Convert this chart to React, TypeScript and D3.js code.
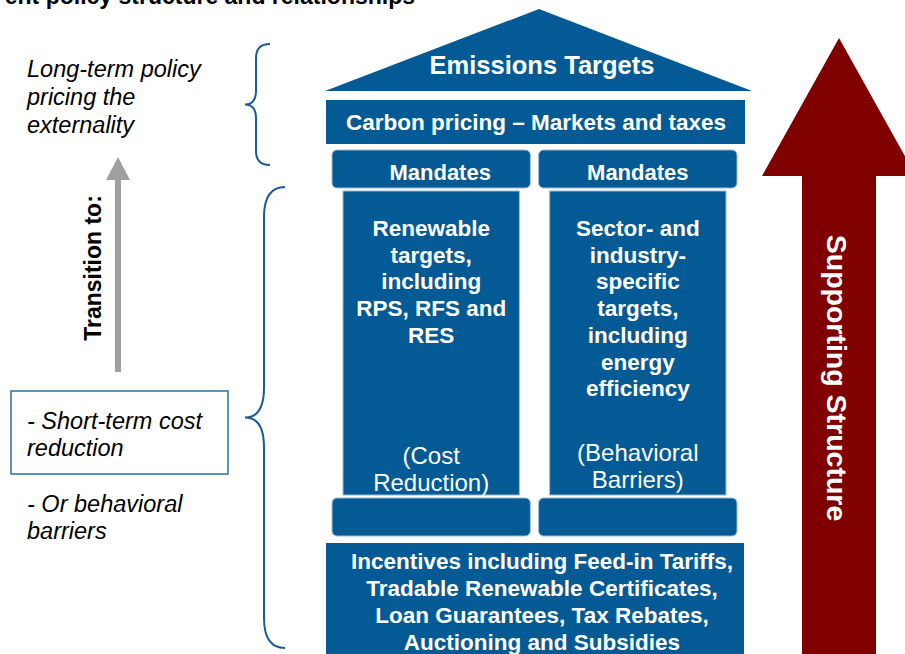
import React from "react";
import * as d3 from "d3";

const BLUE = "#045A94";
const RED = "#800000";
const FONT = "'Liberation Sans', Arial, sans-serif";

const titleText = "ent policy structure and relationships";
const roofLabel = "Emissions Targets";
const beamLabel = "Carbon pricing – Markets and taxes";
const capitalLabels = ["Mandates", "Mandates"];
const pillarLines = [
  ["Renewable", "targets,", "including", "RPS, RFS and", "RES"],
  ["Sector- and", "industry-", "specific", "targets,", "including", "energy", "efficiency"],
];
const pillarNotes = [
  ["(Cost", "Reduction)"],
  ["(Behavioral", "Barriers)"],
];
const foundationLines = [
  "Incentives including Feed-in Tariffs,",
  "Tradable Renewable Certificates,",
  "Loan Guarantees, Tax Rebates,",
  "Auctioning and Subsidies",
];
const longTermLines = ["Long-term policy", "pricing the", "externality"];
const shortTermLines = ["- Short-term cost", "reduction"];
const behaviourLines = ["- Or behavioral", "barriers"];
const transitionLabel = "Transition to:";
const supportLabel = "Supporting Structure";

// curly brace: x of the ends, x of the spine, x of the tip, top, bottom, curl size
function brace(xEnd: number, xSpine: number, xTip: number, y0: number, y1: number, c: number) {
  const p = d3.path();
  const ym = (y0 + y1) / 2;
  p.moveTo(xEnd, y0);
  p.quadraticCurveTo(xSpine, y0, xSpine, y0 + c);
  p.lineTo(xSpine, ym - c);
  p.quadraticCurveTo(xSpine, ym, xTip, ym);
  p.quadraticCurveTo(xSpine, ym, xSpine, ym + c);
  p.lineTo(xSpine, y1 - c);
  p.quadraticCurveTo(xSpine, y1, xEnd, y1);
  return p.toString();
}

export default function App() {
  const width = 905;
  const height = 654;

  const columns = d3.scaleBand<number>().domain([0, 1]).range([332, 737]).paddingInner(0.04);
  const pillarInset = 11;
  const capOffset = [9, 0];

  const roof = d3.line()([
    [325, 91],
    [539, 9],
    [752, 91],
  ]) + "Z";

  const redArrow = d3.line()([
    [802, 660],
    [802, 176],
    [762, 176],
    [839, 38],
    [916, 176],
    [876, 176],
    [876, 660],
  ]) + "Z";

  const grayArrow = d3.line()([
    [115, 372],
    [115, 180],
    [106, 180],
    [118, 157],
    [130, 180],
    [121, 180],
    [121, 372],
  ]) + "Z";

  const bold = { fontFamily: FONT, fontWeight: 700 as const };

  return (
    <svg
      width={width}
      height={height}
      style={{ position: "absolute", left: 0, top: 0, background: "#fff" }}
    >
      <text x={415} y={4} textAnchor="end" fontSize={23} fill="#000" {...bold}>
        {titleText}
      </text>

      {/* roof + beam */}
      <path d={roof} fill={BLUE} />
      <text x={542} y={74} textAnchor="middle" fontSize={25.5} fill="#fff" {...bold}>
        {roofLabel}
      </text>
      <rect x={326} y={100} width={419} height={44} fill={BLUE} />
      <text x={536} y={130} textAnchor="middle" fontSize={22.5} fill="#fff" {...bold}>
        {beamLabel}
      </text>

      {/* pillars */}
      {capitalLabels.map((lab, i) => {
        const x = columns(i)!;
        const w = columns.bandwidth();
        const cx = x + w / 2;
        return (
          <g key={i}>
            <rect x={x} y={150} width={w} height={38} rx={5} fill={BLUE} stroke="#9DB8D3" strokeWidth={1} />
            <text x={cx + capOffset[i]} y={180} textAnchor="middle" fontSize={22} fill="#fff" {...bold}>
              {lab}
            </text>
            <rect
              x={x + pillarInset}
              y={191}
              width={w - 2 * pillarInset}
              height={304}
              fill={BLUE}
              stroke="#9DB8D3"
              strokeWidth={1}
            />
            {pillarLines[i].map((l, j) => (
              <text key={j} x={cx} y={236 + j * 26.7} textAnchor="middle" fontSize={22.5} fill="#fff" {...bold}>
                {l}
              </text>
            ))}
            {pillarNotes[i].map((l, j) => (
              <text
                key={j}
                x={cx}
                y={(i === 0 ? 464 : 461) + j * 26.5}
                textAnchor="middle"
                fontSize={24}
                fill="#fff"
                fontFamily={FONT}
              >
                {l}
              </text>
            ))}
            <rect x={x} y={498} width={w} height={38} rx={5} fill={BLUE} stroke="#9DB8D3" strokeWidth={1} />
          </g>
        );
      })}

      {/* foundation */}
      <rect x={326} y={543} width={418} height={120} fill={BLUE} />
      {foundationLines.map((l, j) => (
        <text key={j} x={542} y={569 + j * 27} textAnchor="middle" fontSize={22.5} fill="#fff" {...bold}>
          {l}
        </text>
      ))}

      {/* supporting arrow */}
      <path d={redArrow} fill={RED} />
      <text
        transform="translate(827,378) rotate(90)"
        textAnchor="middle"
        fontSize={28.5}
        fill="#fff"
        {...bold}
      >
        {supportLabel}
      </text>

      {/* braces */}
      <path d={brace(270, 256, 245, 44, 165, 14)} fill="none" stroke="#1B5C97" strokeWidth={2} />
      <path d={brace(285, 264, 245, 187, 648, 30)} fill="none" stroke="#1B5C97" strokeWidth={2} />

      {/* left texts */}
      {longTermLines.map((l, j) => (
        <text key={j} x={27} y={76.5 + j * 28} fontSize={23.5} fontStyle="italic" fill="#000" fontFamily={FONT}>
          {l}
        </text>
      ))}
      <path d={grayArrow} fill="#A0A0A0" />
      <text transform="translate(101,268) rotate(-90)" textAnchor="middle" fontSize={23} fill="#000" {...bold}>
        {transitionLabel}
      </text>
      <rect x={11} y={391} width={217} height={83} fill="#fff" stroke="#2E6DA4" strokeWidth={1.5} />
      {shortTermLines.map((l, j) => (
        <text key={j} x={27} y={428.5 + j * 27} fontSize={23.5} fontStyle="italic" fill="#000" fontFamily={FONT}>
          {l}
        </text>
      ))}
      {behaviourLines.map((l, j) => (
        <text key={j} x={27} y={511.5 + j * 27} fontSize={23.5} fontStyle="italic" fill="#000" fontFamily={FONT}>
          {l}
        </text>
      ))}
    </svg>
  );
}
